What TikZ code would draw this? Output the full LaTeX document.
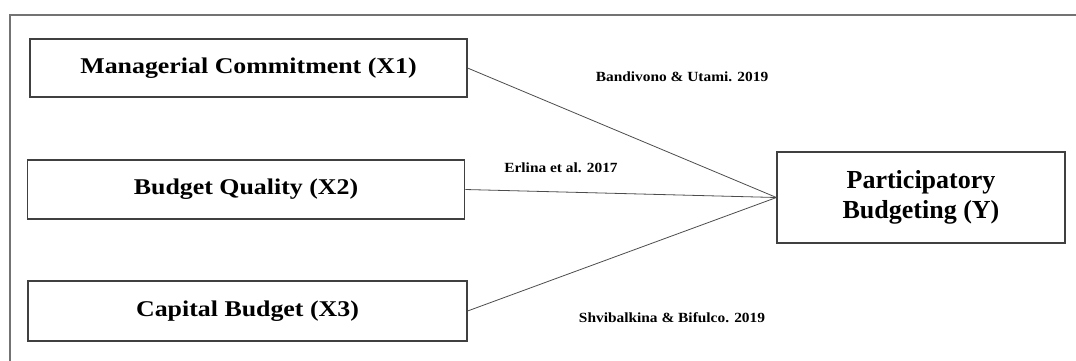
\documentclass[tikz,border=0pt]{standalone}
\usepackage{fontspec}
\setmainfont{Liberation Serif}
\newfontfamily\stretchserif{Liberation Serif}[FakeStretch=1.15]
\newfontfamily\citeserif{Liberation Serif}[FakeStretch=1.1]
\begin{document}
\begin{tikzpicture}[x=1pt,y=-1pt,
  varbox/.style={draw=black!75,line width=1.1pt,rectangle,inner sep=0pt,align=center},
  xfont/.style={font=\stretchserif\bfseries\fontsize{22.5}{26}\selectfont},
  yfont/.style={font=\bfseries\fontsize{26}{30.5}\selectfont},
  cite/.style={inner sep=0pt,font=\citeserif\bfseries\fontsize{14}{16}\selectfont},
  link/.style={draw=black!70,line width=0.8pt}]
\useasboundingbox (0,0) rectangle (1076,360);
\draw[black!55,line width=1.3pt] (10,362) -- (10,15) -- (1078,15);
\node[varbox,xfont,minimum width=437pt,minimum height=58pt] (x1) at (248.5,68) {Managerial Commitment (X1)};
\node[varbox,xfont,minimum width=437.5pt,minimum height=59pt] (x2) at (246,189.5) {Budget Quality (X2)};
\node[varbox,xfont,minimum width=439pt,minimum height=60pt] (x3) at (247.5,311) {Capital Budget (X3)};
\node[varbox,yfont,minimum width=288pt,minimum height=91pt] (y) at (921,197.5) {Participatory\\Budgeting (Y)};
\draw[link] (x1.east) -- (y.west);
\draw[link] (x2.east) -- (y.west);
\draw[link] (x3.east) -- (y.west);
\node[cite] (c1) at (682,76.5) {Bandivono \& Utami. 2019};
\node[cite] (c2) at (561,168) {Erlina et al. 2017};
\node[cite] (c3) at (672,317.5) {Shvibalkina \& Bifulco. 2019};
\end{tikzpicture}
\end{document}
